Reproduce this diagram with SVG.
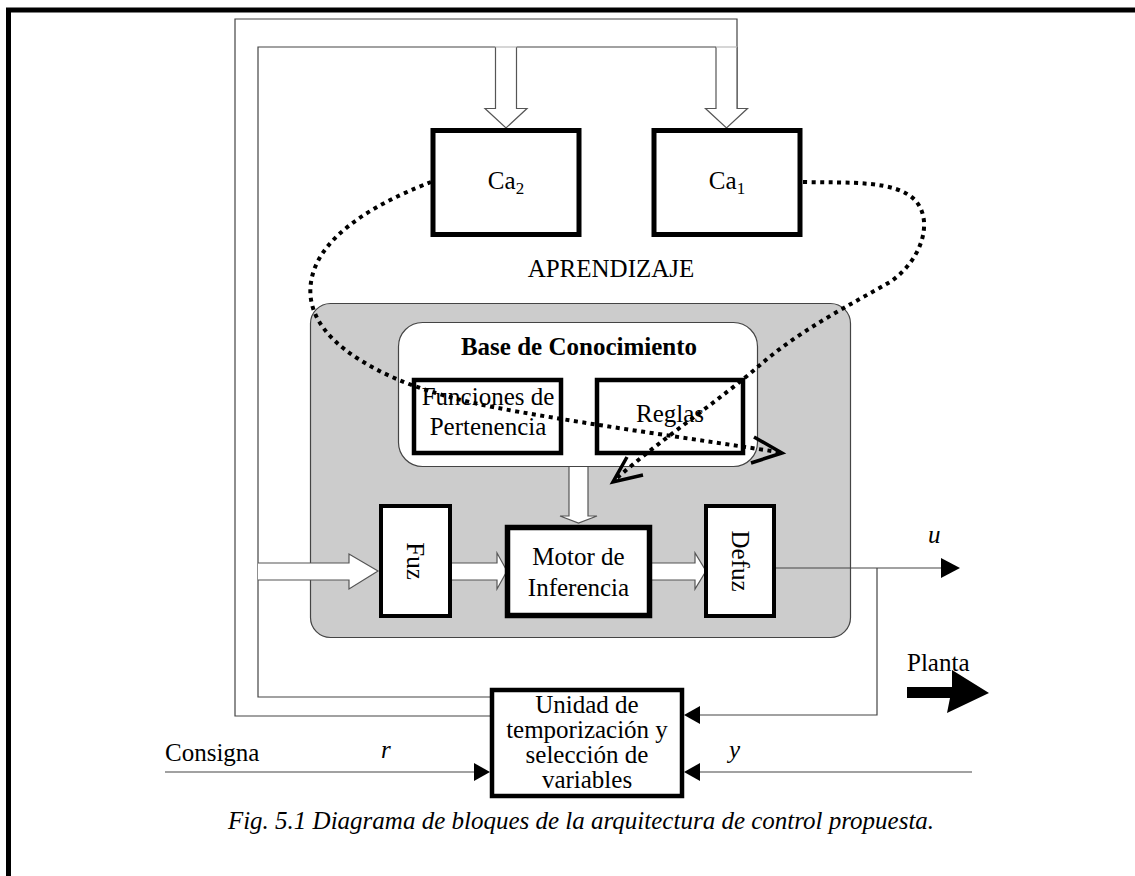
<svg xmlns="http://www.w3.org/2000/svg" width="1135" height="876" viewBox="0 0 1135 876">
  <style>
    .t { font-family: "Liberation Serif", "Times New Roman", serif; font-size: 25px; fill: #000; }
    .c { text-anchor: middle; }
    .i { font-style: italic; }
    .b { font-weight: bold; }
    .wire { fill: none; stroke: #444; stroke-width: 1.2; }
    .hollow { fill: #fff; stroke: #555; stroke-width: 1.2; }
    .faint { fill: none; stroke: #bbb; stroke-width: 1.2; }
    .box { fill: #fff; stroke: #000; }
    .dots { fill: none; stroke: #000; stroke-width: 4; stroke-dasharray: 4 4.5; }
    .vee { fill: none; stroke: #000; stroke-width: 3.5; stroke-linejoin: miter; }
  </style>

  <!-- frame: heavy rules on the top and left edges -->
  <path d="M8.5,876 V10 H1135" fill="none" stroke="#000" stroke-width="5"/>

  <!-- controller panel and knowledge base backdrop -->
  <g id="panel">
    <rect x="310.5" y="303.5" width="540" height="334" rx="20" fill="#cccccc" stroke="#444" stroke-width="1.2"/>
  </g>
  <g id="base">
    <rect x="398.5" y="322.5" width="359" height="144" rx="24" fill="#fff" stroke="#444" stroke-width="1.2"/>
    <text class="t c b" x="579" y="355">Base de Conocimiento</text>
  </g>

  <g id="connectors">
    <!-- feedback loops from the timing unit up to the learning blocks -->
    <path class="wire" d="M494,697 H258 V47 H495.5"/>
    <path class="wire" d="M516.5,47 H716"/>
    <path class="wire" d="M737,108.5 V19 H235 V716 H494"/>
    <path class="hollow" d="M495.5,47 V108.5 H485 L506,128 L527,108.5 H516.5 V47"/>
    <path class="faint" d="M495.5,47 H516.5"/>
    <path class="hollow" d="M716,47 V108.5 H705.5 L726.5,128 L747.5,108.5 H737 V47"/>
    <path class="faint" d="M716,47 H737"/>

    <!-- wide signal arrows inside the controller -->
    <path class="hollow" d="M258,563 H349 V554 L378,571 L349,589 V580 H258"/>
    <path class="hollow" d="M452,563 H497 V553 L507,571 L497,589 V580 H452"/>
    <path class="hollow" d="M652,563 H695 V553 L706,571 L695,589 V580 H652"/>
    <path class="hollow" d="M569,467 V516 H560 L578.5,523 L597,516 H588 V467"/>

    <!-- control output u and its tap back to the timing unit -->
    <path class="wire" d="M776,568 H942"/>
    <polygon points="941,558 960,568 941,578" fill="#000"/>
    <path class="wire" d="M877,568 V715 H700"/>
    <polygon points="700,706 684,715 700,724" fill="#000"/>

    <!-- set point r and plant output y -->
    <path class="wire" d="M165,772 H476"/>
    <polygon points="474,763 490,772 474,781" fill="#000"/>
    <path class="wire" d="M972,772 H700"/>
    <polygon points="700,763 684,772 700,781" fill="#000"/>

    <!-- plant arrow -->
    <polygon points="907,687 952,687 952,670 989,693 947,713 950,698 907,698" fill="#000"/>
  </g>

  <!-- learning blocks -->
  <g id="ca2">
    <rect class="box" x="433" y="130.5" width="146" height="104" stroke-width="5"/>
    <text class="t c" x="506" y="189">Ca<tspan font-size="17" dy="5">2</tspan></text>
  </g>
  <g id="ca1">
    <rect class="box" x="654" y="130.5" width="146" height="104" stroke-width="5"/>
    <text class="t c" x="727" y="189">Ca<tspan font-size="17" dy="5">1</tspan></text>
  </g>
  <text class="t c" x="611" y="277">APRENDIZAJE</text>

  <!-- knowledge base contents -->
  <g id="funciones">
    <rect class="box" x="414" y="380" width="147" height="73" stroke-width="4.5"/>
    <text class="t c" x="488" y="405">Funciones de</text>
    <text class="t c" x="488" y="435">Pertenencia</text>
  </g>
  <g id="reglas">
    <rect class="box" x="597" y="380" width="146" height="73" stroke-width="4.5"/>
    <text class="t c" x="670" y="422">Reglas</text>
  </g>

  <!-- fuzzy controller chain -->
  <g id="fuz">
    <rect class="box" x="381" y="506" width="69" height="110" stroke-width="4"/>
    <text class="t c" transform="translate(415,561) rotate(90)" y="8">Fuz</text>
  </g>
  <g id="motor">
    <rect class="box" x="507.5" y="527.5" width="142" height="88" stroke-width="5.5"/>
    <text class="t c" x="578.5" y="565">Motor de</text>
    <text class="t c" x="578.5" y="596">Inferencia</text>
  </g>
  <g id="defuz">
    <rect class="box" x="706" y="506" width="68" height="110" stroke-width="4"/>
    <text class="t c" transform="translate(740,561) rotate(90)" y="8">Defuz</text>
  </g>

  <!-- timing and variable selection unit -->
  <g id="unidad">
    <rect class="box" x="492" y="690" width="190" height="106" stroke-width="4.5"/>
    <text class="t c" x="587" y="713">Unidad de</text>
    <text class="t c" x="587" y="738">temporización y</text>
    <text class="t c" x="587" y="763">selección de</text>
    <text class="t c" x="587" y="788">variables</text>
  </g>

  <!-- signal labels -->
  <text class="t i" x="928" y="543">u</text>
  <text class="t" x="907" y="671">Planta</text>
  <text class="t" x="165" y="761">Consigna</text>
  <text class="t i" x="381" y="758">r</text>
  <text class="t i" x="729" y="758">y</text>

  <!-- learning feedback paths (dotted) -->
  <g id="learning-paths">
    <path class="dots" d="M431,182 C395,196 330,225 314,270 C302,305 320,335 360,360 C400,385 450,400 520,412 C600,426 700,440 778,452"/>
    <polyline class="vee" points="754,437 782,453 751,463"/>
    <path class="dots" d="M803,182 C850,183 895,180 915,200 C935,222 920,262 890,282 C850,305 800,330 760,365 C720,400 660,440 617,478"/>
    <polyline class="vee" points="627,457 613,482 643,475"/>
  </g>

  <text class="t i c" x="581" y="829" font-size="26.5">Fig. 5.1 Diagrama de bloques de la arquitectura de control propuesta.</text>
</svg>
